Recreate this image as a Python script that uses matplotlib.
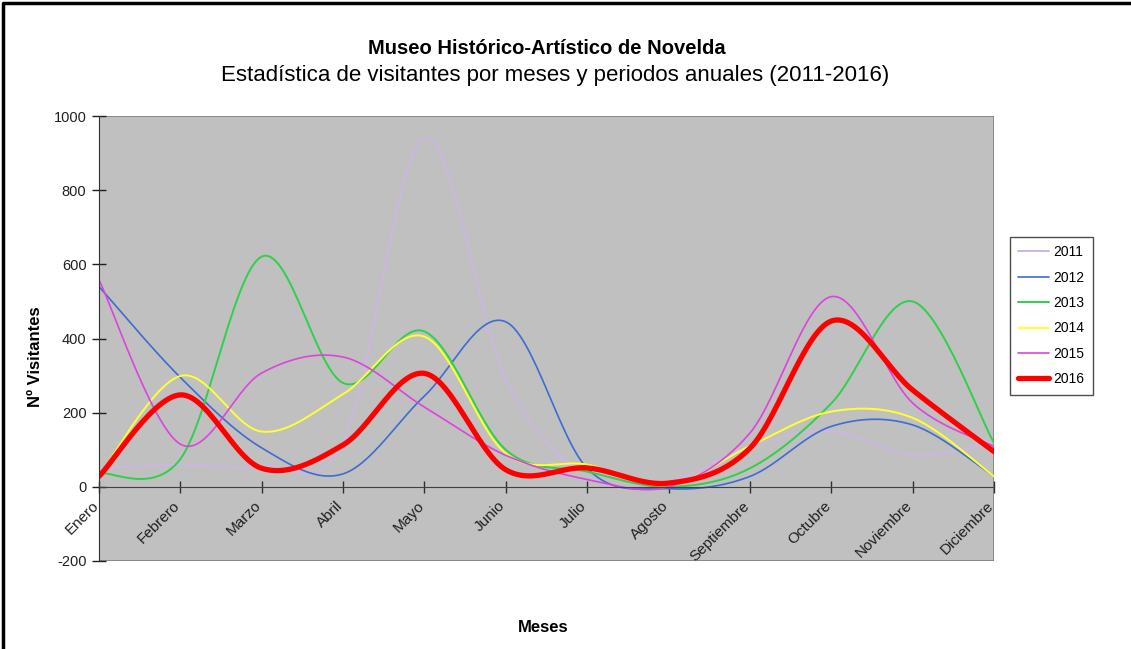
import numpy as np
import matplotlib
matplotlib.use('Agg')
import matplotlib.pyplot as plt
from matplotlib.patches import Rectangle
from matplotlib.lines import Line2D
import matplotlib.transforms as mtransforms

plt.rcParams['font.family'] = ['Liberation Sans', 'DejaVu Sans']
plt.rcParams['axes.unicode_minus'] = False

# --- data ---
meses = ['Enero', 'Febrero', 'Marzo', 'Abril', 'Mayo', 'Junio', 'Julio',
         'Agosto', 'Septiembre', 'Octubre', 'Noviembre', 'Diciembre']
v2011 = [50, 60, 55, 120, 940, 290, 30, 15, 110, 150, 85, 120]
v2012 = [540, 295, 105, 35, 245, 445, 50, -5, 28, 163, 167, 28]
v2013 = [37, 75, 621, 280, 419, 100, 41, 0, 50, 225, 500, 118]
v2014 = [30, 299, 149, 250, 405, 90, 60, 5, 110, 203, 186, 28]
v2015 = [558, 115, 307, 350, 215, 85, 20, 0, 145, 513, 226, 109]
v2016 = [28, 248, 50, 113, 306, 46, 51, 10, 104, 447, 261, 95]

years = ['2011', '2012', '2013', '2014', '2015', '2016']
colors = ['#CDB6E4', '#3E6CD0', '#2FD04A', '#FFFF33', '#DD44DD', '#FF0000']
widths = [1.4, 1.2, 1.4, 1.4, 1.2, 3.8]
series = [v2011, v2012, v2013, v2014, v2015, v2016]


def smooth(y, n=30):
    # Excel style smoothed line: Catmull-Rom bezier through the points
    y = np.asarray(y, dtype=float)
    x = np.arange(len(y), dtype=float)
    pts = np.column_stack([x, y])
    out = []
    for i in range(len(pts) - 1):
        p0, p3 = pts[i], pts[i + 1]
        pm = pts[i - 1] if i > 0 else pts[i]
        pp = pts[i + 2] if i + 2 < len(pts) else pts[i + 1]
        p1 = p0 + (p3 - pm) / 6
        p2 = p3 - (pp - p0) / 6
        t = np.linspace(0, 1, n)[:, None]
        seg = ((1 - t) ** 3) * p0 + 3 * ((1 - t) ** 2) * t * p1 \
            + 3 * (1 - t) * t ** 2 * p2 + t ** 3 * p3
        out.append(seg if i == 0 else seg[1:])
    out = np.vstack(out)
    return out[:, 0], out[:, 1]


fig = plt.figure(figsize=(11.31, 6.49), dpi=100)
ax = fig.add_axes([99 / 1131, 1 - 561 / 649, (994 - 99) / 1131, (561 - 116) / 649])
ax.set_facecolor('#C0C0C0')

for vals, yr, c, lw in zip(series, years, colors, widths):
    xs, ys = smooth(vals)
    ax.plot(xs, ys, color=c, lw=lw, label=yr, solid_capstyle='round')

ax.set_xlim(0, 11)
ax.set_ylim(-200, 1000)
ax.set_yticks(range(-200, 1001, 200))
ax.tick_params(axis='y', direction='inout', length=10, width=1, labelsize=10.5,
               colors='#202020', pad=4)

# x axis crosses at zero
ax.spines['bottom'].set_position(('data', 0))
ax.spines['bottom'].set_color('#404040')
ax.spines['left'].set_color('#303030')
ax.spines['top'].set_visible(False)
ax.spines['right'].set_visible(False)
ax.set_xticks(range(12))
ax.set_xticklabels([])
ax.tick_params(axis='x', direction='inout', length=8, width=1, colors='#303030')

# gray plot-area border
ax.add_patch(Rectangle((0, 0), 1, 1, transform=ax.transAxes, fill=False,
                       edgecolor='#808080', lw=1.2, zorder=0.5))

# rotated month labels
trans = mtransforms.blended_transform_factory(ax.transData, ax.transData)
off = mtransforms.offset_copy(trans, fig=fig, x=-5.5, y=-8.5, units='points')
for i, m in enumerate(meses):
    ax.text(i, 0, m, transform=off, rotation=45, ha='right', va='top',
            rotation_mode='anchor', fontsize=11, color='#202020')

fig.text(547 / 1131, 1 - 48 / 649, 'Museo Histórico-Artístico de Novelda',
         ha='center', va='center', fontsize=14.5, fontweight='bold')
fig.text(555 / 1131, 1 - 75 / 649,
         'Estadística de visitantes por meses y periodos anuales (2011-2016)',
         ha='center', va='center', fontsize=16)
fig.text(35 / 1131, 1 - 357 / 649, 'Nº Visitantes', rotation=90,
         ha='center', va='center', fontsize=12, fontweight='bold')
fig.text(543 / 1131, 1 - 628 / 649, 'Meses', ha='center', va='center',
         fontsize=12, fontweight='bold')

leg = ax.legend(loc='upper left', bbox_to_anchor=(1010 / 1131, 1 - 237 / 649),
                bbox_transform=fig.transFigure, fontsize=10, frameon=True,
                fancybox=False, edgecolor='#202020', borderaxespad=0,
                labelspacing=0.82, handlelength=2.2, handletextpad=0.3,
                borderpad=0.6)
leg.get_frame().set_linewidth(1)

# outer frame of the chart (top and left edges visible in the reference)
fig.add_artist(Line2D([0.003, 0.003, 1.0], [0.0, 0.996, 0.996],
                      transform=fig.transFigure, color='black', lw=2.5))

fig.savefig('out.png', dpi=100)
